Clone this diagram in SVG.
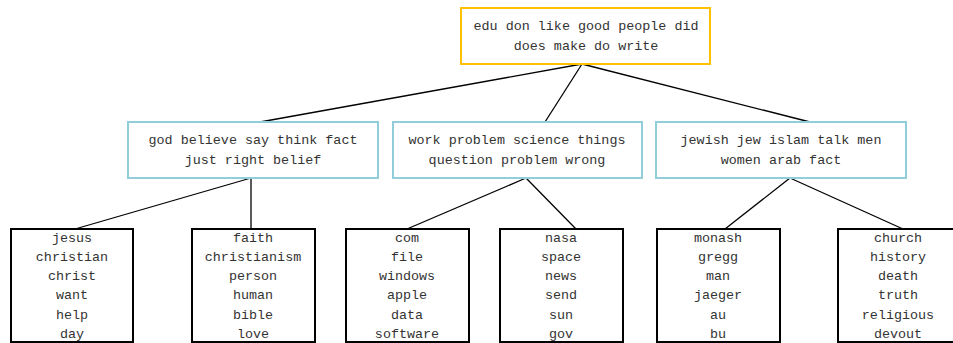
<svg xmlns="http://www.w3.org/2000/svg" width="953" height="343" viewBox="0 0 953 343">
<style>
text{font-family:"Liberation Mono","DejaVu Sans Mono",monospace;font-size:13.4px;fill:#333;text-anchor:middle;dominant-baseline:central}
.top{fill:#fff;stroke:#FFC000;stroke-width:2}
.mid{fill:#fff;stroke:#92CDDC;stroke-width:2}
.leaf{fill:#fff;stroke:#000;stroke-width:2}
.edge{stroke:#000;stroke-width:1.3;fill:none}
</style>
<rect width="953" height="343" fill="#fff"/>
<g id="connectors">
<line class="edge" x1="582" y1="64" x2="260" y2="122"/>
<line class="edge" x1="582" y1="64" x2="545" y2="122"/>
<line class="edge" x1="582" y1="64" x2="810" y2="122"/>
<line class="edge" x1="251" y1="178" x2="75" y2="229"/>
<line class="edge" x1="251" y1="178" x2="251" y2="229"/>
<line class="edge" x1="526" y1="178" x2="407" y2="229"/>
<line class="edge" x1="526" y1="178" x2="576" y2="229"/>
<line class="edge" x1="790" y1="178" x2="725" y2="229"/>
<line class="edge" x1="790" y1="178" x2="903" y2="229"/>
</g>
<g id="root">
<rect class="top" x="461" y="8" width="249" height="56"/>
<text x="586" y="26">edu don like good people did</text>
<text x="586" y="46">does make do write</text>
</g>
<g id="mid1">
<rect class="mid" x="128" y="122" width="250" height="56"/>
<text x="253" y="140">god believe say think fact</text>
<text x="253" y="160">just right belief</text>
</g>
<g id="mid2">
<rect class="mid" x="393" y="122" width="249" height="56"/>
<text x="517" y="140">work problem science things</text>
<text x="517" y="160">question problem wrong</text>
</g>
<g id="mid3">
<rect class="mid" x="656" y="122" width="250" height="56"/>
<text x="781" y="140">jewish jew islam talk men</text>
<text x="781" y="160">women arab fact</text>
</g>
<g id="leaf1">
<rect class="leaf" x="11" y="229" width="122" height="113"/>
<text x="72" y="238">jesus</text><text x="72" y="257">christian</text><text x="72" y="276">christ</text><text x="72" y="295">want</text><text x="72" y="315">help</text><text x="72" y="334">day</text>
</g>
<g id="leaf2">
<rect class="leaf" x="192" y="229" width="123" height="113"/>
<text x="253" y="238">faith</text><text x="253" y="257">christianism</text><text x="253" y="276">person</text><text x="253" y="295">human</text><text x="253" y="315">bible</text><text x="253" y="334">love</text>
</g>
<g id="leaf3">
<rect class="leaf" x="346" y="229" width="123" height="113"/>
<text x="407" y="238">com</text><text x="407" y="257">file</text><text x="407" y="276">windows</text><text x="407" y="295">apple</text><text x="407" y="315">data</text><text x="407" y="334">software</text>
</g>
<g id="leaf4">
<rect class="leaf" x="500" y="229" width="123" height="113"/>
<text x="561" y="238">nasa</text><text x="561" y="257">space</text><text x="561" y="276">news</text><text x="561" y="295">send</text><text x="561" y="315">sun</text><text x="561" y="334">gov</text>
</g>
<g id="leaf5">
<rect class="leaf" x="657" y="229" width="123" height="113"/>
<text x="718" y="238">monash</text><text x="718" y="257">gregg</text><text x="718" y="276">man</text><text x="718" y="295">jaeger</text><text x="718" y="315">au</text><text x="718" y="334">bu</text>
</g>
<g id="leaf6">
<rect class="leaf" x="838" y="229" width="123" height="113"/>
<text x="898" y="238">church</text><text x="898" y="257">history</text><text x="898" y="276">death</text><text x="898" y="295">truth</text><text x="898" y="315">religious</text><text x="898" y="334">devout</text>
</g>
</svg>
